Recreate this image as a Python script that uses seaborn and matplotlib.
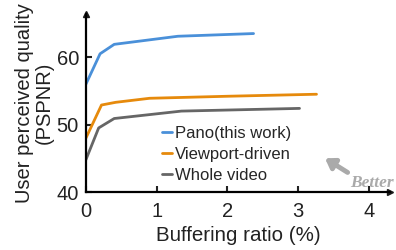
import matplotlib
matplotlib.use("Agg")
import matplotlib.pyplot as plt
import seaborn as sns
import pandas as pd

pano_x = [0, 0.2, 0.4, 1.3, 2.37]
pano_y = [56.0, 60.5, 61.9, 63.1, 63.5]
vp_x = [0, 0.22, 0.42, 0.9, 2.0, 3.26]
vp_y = [48.0, 52.9, 53.3, 53.9, 54.2, 54.5]
whole_x = [0, 0.18, 0.4, 1.35, 3.02]
whole_y = [44.8, 49.5, 50.9, 52.0, 52.4]
labels = ["Pano(this work)", "Viewport-driven", "Whole video"]
colors = ["#4a90d9", "#e68a0c", "#666666"]

rows = []
for lab, xs, ys in zip(labels, [pano_x, vp_x, whole_x], [pano_y, vp_y, whole_y]):
    for x, y in zip(xs, ys):
        rows.append({"x": x, "y": y, "s": lab})
df = pd.DataFrame(rows)

sns.set_theme(style="ticks")
plt.rcParams["font.family"] = ["Liberation Sans", "DejaVu Sans"]

fig = plt.figure(figsize=(3.96, 2.5), dpi=100)
ax = fig.add_axes([0.217, 0.232, 0.768, 0.712])
sns.lineplot(data=df, x="x", y="y", hue="s", palette=dict(zip(labels, colors)),
             linewidth=2, sort=False, ax=ax, legend=True)
ax.set_xlim(0, 4.3)
ax.set_ylim(40, 66.4)
ax.set_xticks([0, 1, 2, 3, 4])
ax.set_yticks([40, 50, 60])
ax.tick_params(direction="in", length=4, width=1.5, labelsize=14.5, pad=5, colors="#222222")
ax.tick_params(axis="x", pad=7)
for s in ["top", "right"]:
    ax.spines[s].set_visible(False)
for s in ["left", "bottom"]:
    ax.spines[s].set_linewidth(1.6)
    ax.spines[s].set_color("black")
ax.plot(1, 0, ">k", transform=ax.transAxes, clip_on=False, markersize=4)
ax.plot(0, 1, "^k", transform=ax.transAxes, clip_on=False, markersize=4)
ax.set_xlabel("Buffering ratio (%)", fontsize=14.8, color="#222222", labelpad=4)
ax.set_ylabel("User perceived quality\n(PSPNR)", fontsize=14.5, color="#222222", labelpad=2, linespacing=1.05)

leg = ax.legend(loc="lower left", bbox_to_anchor=(0.213, -0.012), frameon=False, fontsize=12,
                handlelength=0.6, handletextpad=0.2, labelspacing=0.36, borderaxespad=0.25)
for h in leg.get_lines():
    h.set_linewidth(2)

ax.annotate("", xy=(3.38, 45.0), xytext=(3.7, 42.9),
            arrowprops=dict(arrowstyle="-|>,head_length=0.45,head_width=0.3", color="#aaaaaa", lw=3.5,
                            shrinkA=0, shrinkB=0))
ax.text(4.04, 41.3, "Better", fontsize=12.5, color="#aaaaaa", fontstyle="italic",
        fontweight="bold", family="Liberation Serif", ha="center", va="center")

fig.savefig("out.png", dpi=100)
